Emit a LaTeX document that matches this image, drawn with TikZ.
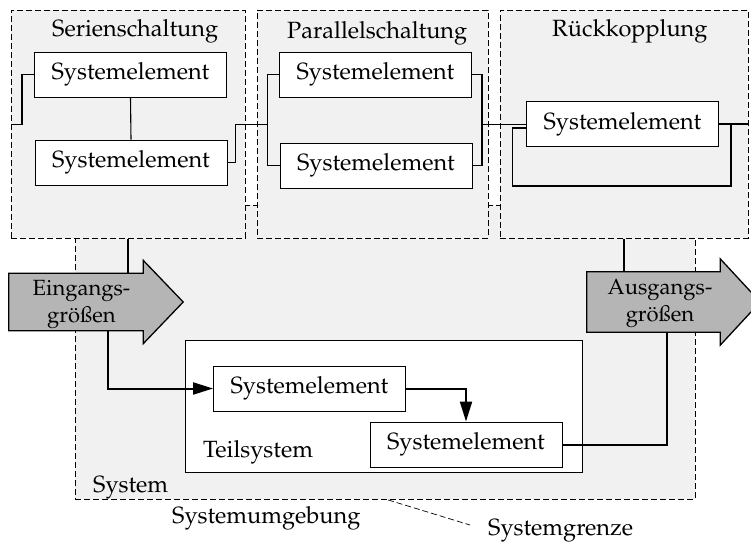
\documentclass[tikz,border=0pt]{standalone}
\usepackage[T1]{fontenc}
\usepackage{mathpazo}
\usetikzlibrary{calc,arrows.meta}

\definecolor{bgfill}{gray}{0.945}
\definecolor{arrowfill}{gray}{0.71}

\tikzset{
  txt/.style={font=\fontsize{23.5}{27}\selectfont, inner sep=0pt},
  arrtxt/.style={font=\fontsize{22}{27}\selectfont, inner sep=0pt, align=center},
  group/.style={draw, dash pattern=on 6pt off 3pt, fill=bgfill, line width=0.9pt,
                inner sep=0pt, anchor=north west},
  elem/.style={txt, draw, fill=white, line width=0.9pt,
               minimum width=192pt, minimum height=45pt},
  body/.style={inner sep=0pt},
  blockarrow/.style={fill=arrowfill, draw, line width=1.3pt, line join=miter},
  wire/.style={line width=1.1pt},
  flow/.style={line width=2pt},
  tip/.style={-{Triangle[length=20pt,width=12pt]}},
  leader/.style={line width=0.7pt, dash pattern=on 6pt off 3pt},
}

\begin{document}
\begin{tikzpicture}[x=1pt,y=-1pt]
  \useasboundingbox (0,0) rectangle (751,541);
  \clip (0,0) rectangle (751,541);

  % system boundary
  \node[group, minimum width=620pt, minimum height=294pt] (sys) at (75,205) {};

  % three coupling patterns
  \node[group, minimum width=234pt, minimum height=228pt] (ser) at (11,10) {};
  \node[group, minimum width=231pt, minimum height=228pt] (par) at (257,10) {};
  \node[group, minimum width=248pt, minimum height=228pt] (rk)  at (500,10) {};
  \node[txt, anchor=base west] (serT) at (52,36)  {Serienschaltung};
  \node[txt, anchor=base west] (parT) at (287,38) {Parallelschaltung};
  \node[txt, anchor=base west] (rkT)  at (552,36) {R\"uckkopplung};

  % series
  \node[elem] (s1) at (130.5,74.5)  {Systemelement};
  \node[elem] (s2) at (131,162.5)   {Systemelement};
  % parallel
  \node[elem] (p1) at (375.5,74.5)  {Systemelement};
  \node[elem] (p2) at (376,165.5)   {Systemelement};
  % feedback
  \node[elem] (r1) at (622.5,124)   {Systemelement};

  % junction points of the parallel branch
  \path (p1.west) ++(-12,0) coordinate (pinx);
  \coordinate (pin) at (pinx |- ser.east);
  \path (p1.east) ++(10,0) coordinate (poutx);
  \coordinate (pout) at (poutx |- ser.east);

  \draw[wire] (ser.west) -- ++(11,0) |- (s1.west);
  \draw[wire] (s1.south) -- (s2.north);
  \draw[wire] (s2.east) -- ++(8,0) |- (pin);
  \draw[wire] (p1.west) -| (pin) |- (p2.west);
  \draw[wire] (p1.east) -| (pout) |- (p2.east);
  \draw[wire] (pout) -- (pout -| r1.west);
  \draw[wire] (r1.east) -- (rk.east |- r1.east);
  \draw[wire] ($(r1.east)+(12,0)$) -- ++(0,62) -| ($(r1.west)+(-14,4)$) -- ($(r1.west)+(0,4)$);

  % input and output quantities
  \path node[body, minimum width=134pt, minimum height=57pt] (ein) at (76,302) {};
  \filldraw[blockarrow] (ein.north west) -- (ein.north east) -- ++(0,-13)
      -- ($(ein.east)+(40,0)$) -- ($(ein.south east)+(0,13)$) -- (ein.south east)
      -- (ein.south west) -- cycle;
  \node[arrtxt] (einT) at (81.5,304) {Eingangs-\\gr\"o\ss en};

  \path node[body, minimum width=133pt, minimum height=60pt] (aus) at (653.5,302) {};
  \filldraw[blockarrow] (aus.north west) -- (aus.north east) -- ++(0,-13)
      -- ($(aus.east)+(40,0)$) -- ($(aus.south east)+(0,13)$) -- (aus.south east)
      -- (aus.south west) -- cycle;
  \node[arrtxt] (ausT) at (660,303) {Ausgangs-\\gr\"o\ss en};

  \draw[flow] (ser.south) -- (ser.south |- ein.north);
  \draw[flow] (rk.south) -- (rk.south |- aus.north);

  % subsystem
  \node[draw, fill=white, line width=0.9pt, minimum width=397pt, minimum height=132pt,
        inner sep=0pt, anchor=north west] (teil) at (185,340) {};
  \node[elem] (eA) at (309.5,388.5) {Systemelement};
  \node[elem] (eB) at (466,444.5)   {Systemelement};
  \node[txt, anchor=base west] (teilT) at (203,457) {Teilsystem};

  \draw[flow, tip] ($(ein.south)+(32,0)$) |- (eA.west);
  \draw[flow, tip] (eA.east) -| (eB.north);
  \draw[flow] (eB.east) -| ($(aus.south)+(13.5,0)$);

  % labels of system and surroundings
  \node[txt, anchor=base west] (sysT) at (93,492)  {System};
  \node[txt, anchor=base west] (umgT) at (172,523) {Systemumgebung};
  \node[txt, anchor=base west] (grzT) at (488,535) {Systemgrenze};
  \draw[leader] ($(sys.south west)+(313,0)$) -- ($(grzT.base west)+(-18,-10)$);
\end{tikzpicture}
\end{document}
